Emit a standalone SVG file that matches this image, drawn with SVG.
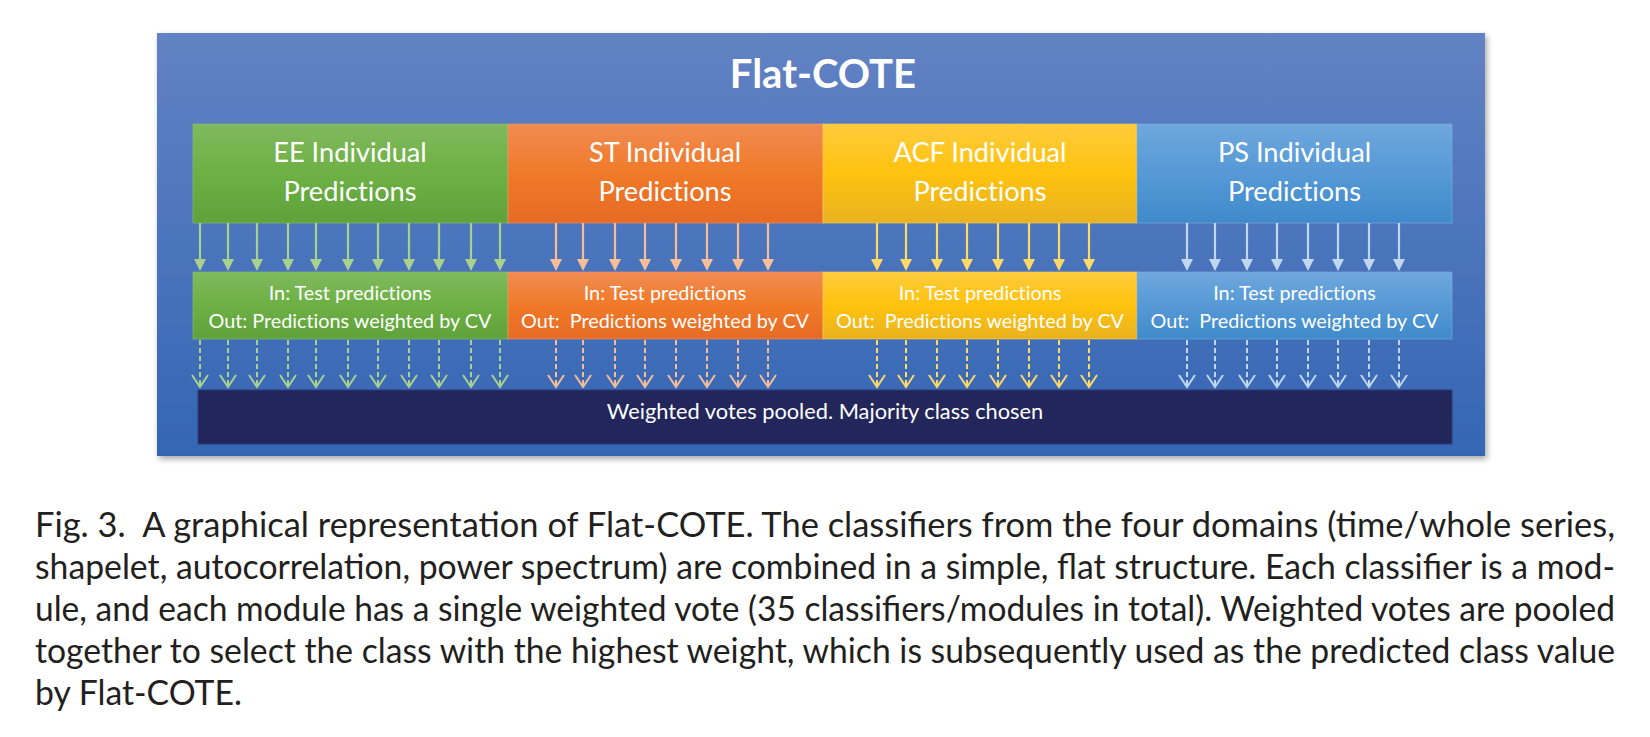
<svg xmlns="http://www.w3.org/2000/svg" width="1650" height="737" viewBox="0 0 1650 737">
<defs>
<linearGradient id="bg" x1="0" y1="0" x2="0" y2="1"><stop offset="0" stop-color="#6282C3"/><stop offset="1" stop-color="#3466B4"/></linearGradient>
<linearGradient id="gG" x1="0" y1="0" x2="0" y2="1"><stop offset="0" stop-color="#80B95E"/><stop offset="0.5" stop-color="#6DB043"/><stop offset="1" stop-color="#5FA23C"/></linearGradient>
<linearGradient id="gO" x1="0" y1="0" x2="0" y2="1"><stop offset="0" stop-color="#F18B53"/><stop offset="0.5" stop-color="#F07A28"/><stop offset="1" stop-color="#E66A25"/></linearGradient>
<linearGradient id="gY" x1="0" y1="0" x2="0" y2="1"><stop offset="0" stop-color="#FFCB3C"/><stop offset="0.5" stop-color="#FFC20E"/><stop offset="1" stop-color="#E8B321"/></linearGradient>
<linearGradient id="gB" x1="0" y1="0" x2="0" y2="1"><stop offset="0" stop-color="#6FA8DD"/><stop offset="0.5" stop-color="#5699D6"/><stop offset="1" stop-color="#3F8ACB"/></linearGradient>
<filter id="sh" x="-5%" y="-5%" width="110%" height="115%"><feDropShadow dx="2" dy="3" stdDeviation="3" flood-color="#000" flood-opacity="0.35"/></filter>
<marker id="hG" markerUnits="userSpaceOnUse" markerWidth="12" markerHeight="12" refX="3" refY="6" orient="auto"><path d="M0,0 L12,6 L0,12 z" fill="#A9D18E"/></marker>
<marker id="hO" markerUnits="userSpaceOnUse" markerWidth="12" markerHeight="12" refX="3" refY="6" orient="auto"><path d="M0,0 L12,6 L0,12 z" fill="#F6BD98"/></marker>
<marker id="hY" markerUnits="userSpaceOnUse" markerWidth="12" markerHeight="12" refX="3" refY="6" orient="auto"><path d="M0,0 L12,6 L0,12 z" fill="#FFD966"/></marker>
<marker id="hB" markerUnits="userSpaceOnUse" markerWidth="12" markerHeight="12" refX="3" refY="6" orient="auto"><path d="M0,0 L12,6 L0,12 z" fill="#C0D8EF"/></marker>
<marker id="vG" markerUnits="userSpaceOnUse" markerWidth="14" markerHeight="18" refX="12" refY="8" orient="auto" overflow="visible"><path d="M0,0 L12,8 L0,16" fill="none" stroke="#A9D18E" stroke-width="2"/></marker>
<marker id="vO" markerUnits="userSpaceOnUse" markerWidth="14" markerHeight="18" refX="12" refY="8" orient="auto" overflow="visible"><path d="M0,0 L12,8 L0,16" fill="none" stroke="#F6BD98" stroke-width="2"/></marker>
<marker id="vY" markerUnits="userSpaceOnUse" markerWidth="14" markerHeight="18" refX="12" refY="8" orient="auto" overflow="visible"><path d="M0,0 L12,8 L0,16" fill="none" stroke="#FFD966" stroke-width="2"/></marker>
<marker id="vB" markerUnits="userSpaceOnUse" markerWidth="14" markerHeight="18" refX="12" refY="8" orient="auto" overflow="visible"><path d="M0,0 L12,8 L0,16" fill="none" stroke="#C0D8EF" stroke-width="2"/></marker>
</defs>
<style>
.t{font-family:Lato,"Open Sans","Liberation Sans",sans-serif;fill:#fff;text-anchor:middle;font-variant-ligatures:none}
.big{font-size:27.2px}
.sm{font-size:19.8px}
.cap{font-family:Lato,"Liberation Sans",sans-serif;font-size:34px;fill:#231F20}
.sg{stroke:#A9D18E}.so{stroke:#F6BD98}.sy{stroke:#FFD966}.sb{stroke:#C0D8EF}
.s{stroke-width:2.2;fill:none}
.d{stroke-width:2;fill:none;stroke-dasharray:5 3}
.bx{stroke-width:1;stroke-opacity:0.6}
</style>
<rect id="frame" x="157" y="33" width="1328" height="423" fill="url(#bg)" filter="url(#sh)"/>
<text class="t" x="823" y="88" style="font-size:40px;font-weight:bold">Flat-COTE</text>

<g id="ee-pred"><rect x="193" y="124" width="315" height="99" fill="url(#gG)" stroke="#8CC46C" class="bx"/><text class="t big" x="350" y="162">EE Individual</text><text class="t big" x="350" y="201">Predictions</text></g>
<g id="st-pred"><rect x="508" y="124" width="315" height="99" fill="url(#gO)" stroke="#F39A66" class="bx"/><text class="t big" x="665" y="162">ST Individual</text><text class="t big" x="665" y="201">Predictions</text></g>
<g id="acf-pred"><rect x="823" y="124" width="314" height="99" fill="url(#gY)" stroke="#FFD360" class="bx"/><text class="t big" x="980" y="162">ACF Individual</text><text class="t big" x="980" y="201">Predictions</text></g>
<g id="ps-pred"><rect x="1137" y="124" width="315" height="99" fill="url(#gB)" stroke="#7DB1E0" class="bx"/><text class="t big" x="1294.5" y="162">PS Individual</text><text class="t big" x="1294.5" y="201">Predictions</text></g>

<g id="ee-weight"><rect x="193" y="272" width="315" height="67" fill="url(#gG)" stroke="#8CC46C" class="bx"/><text class="t sm" x="350" y="300">In: Test predictions</text><text class="t sm" x="350" y="328">Out: Predictions weighted by CV</text></g>
<g id="st-weight"><rect x="508" y="272" width="315" height="67" fill="url(#gO)" stroke="#F39A66" class="bx"/><text class="t sm" x="665" y="300">In: Test predictions</text><text class="t sm" x="665" y="328">Out:&#160; Predictions weighted by CV</text></g>
<g id="acf-weight"><rect x="823" y="272" width="314" height="67" fill="url(#gY)" stroke="#FFD360" class="bx"/><text class="t sm" x="980" y="300">In: Test predictions</text><text class="t sm" x="980" y="328">Out:&#160; Predictions weighted by CV</text></g>
<g id="ps-weight"><rect x="1137" y="272" width="315" height="67" fill="url(#gB)" stroke="#7DB1E0" class="bx"/><text class="t sm" x="1294.5" y="300">In: Test predictions</text><text class="t sm" x="1294.5" y="328">Out:&#160; Predictions weighted by CV</text></g>

<g id="pool"><rect x="198" y="390" width="1254" height="54" fill="#22265B" stroke="#2E3A78" stroke-width="1"/><text class="t" x="825" y="419" style="font-size:21.8px">Weighted votes pooled. Majority class chosen</text></g>

<g id="connectors">
<g class="s sg" marker-end="url(#hG)">
<path d="M200,223V262"/><path d="M228,223V262"/><path d="M257,223V262"/><path d="M288,223V262"/><path d="M316,223V262"/><path d="M348,223V262"/><path d="M378,223V262"/><path d="M409,223V262"/><path d="M439,223V262"/><path d="M471,223V262"/><path d="M500,223V262"/>
</g>
<g class="s so" marker-end="url(#hO)">
<path d="M556,223V262"/><path d="M583,223V262"/><path d="M615,223V262"/><path d="M645,223V262"/><path d="M676,223V262"/><path d="M707,223V262"/><path d="M738,223V262"/><path d="M768,223V262"/>
</g>
<g class="s sy" marker-end="url(#hY)">
<path d="M877,223V262"/><path d="M906,223V262"/><path d="M937,223V262"/><path d="M967,223V262"/><path d="M998,223V262"/><path d="M1029,223V262"/><path d="M1059,223V262"/><path d="M1089,223V262"/>
</g>
<g class="s sb" marker-end="url(#hB)">
<path d="M1187,223V262"/><path d="M1215,223V262"/><path d="M1247,223V262"/><path d="M1277,223V262"/><path d="M1308,223V262"/><path d="M1338,223V262"/><path d="M1369,223V262"/><path d="M1399,223V262"/>
</g>
<g class="d sg" marker-end="url(#vG)">
<path d="M200,340V387"/><path d="M228,340V387"/><path d="M257,340V387"/><path d="M288,340V387"/><path d="M316,340V387"/><path d="M348,340V387"/><path d="M378,340V387"/><path d="M409,340V387"/><path d="M439,340V387"/><path d="M471,340V387"/><path d="M500,340V387"/>
</g>
<g class="d so" marker-end="url(#vO)">
<path d="M556,340V387"/><path d="M583,340V387"/><path d="M615,340V387"/><path d="M645,340V387"/><path d="M676,340V387"/><path d="M707,340V387"/><path d="M738,340V387"/><path d="M768,340V387"/>
</g>
<g class="d sy" marker-end="url(#vY)">
<path d="M877,340V387"/><path d="M906,340V387"/><path d="M937,340V387"/><path d="M967,340V387"/><path d="M998,340V387"/><path d="M1029,340V387"/><path d="M1059,340V387"/><path d="M1089,340V387"/>
</g>
<g class="d sb" marker-end="url(#vB)">
<path d="M1187,340V387"/><path d="M1215,340V387"/><path d="M1247,340V387"/><path d="M1277,340V387"/><path d="M1308,340V387"/><path d="M1338,340V387"/><path d="M1369,340V387"/><path d="M1399,340V387"/>
</g>
</g>

<g id="caption">
<text class="cap" x="35" y="537" textLength="1580" lengthAdjust="spacingAndGlyphs" xml:space="preserve">Fig. 3.  A graphical representation of Flat-COTE. The classifiers from the four domains (time/whole series,</text>
<text class="cap" x="35" y="579" textLength="1580" lengthAdjust="spacingAndGlyphs">shapelet, autocorrelation, power spectrum) are combined in a simple, flat structure. Each classifier is a mod-</text>
<text class="cap" x="35" y="621" textLength="1580" lengthAdjust="spacingAndGlyphs">ule, and each module has a single weighted vote (35 classifiers/modules in total). Weighted votes are pooled</text>
<text class="cap" x="35" y="663" textLength="1580" lengthAdjust="spacingAndGlyphs">together to select the class with the highest weight, which is subsequently used as the predicted class value</text>
<text class="cap" x="35" y="705" textLength="207" lengthAdjust="spacingAndGlyphs">by Flat-COTE.</text>
</g>
</svg>
